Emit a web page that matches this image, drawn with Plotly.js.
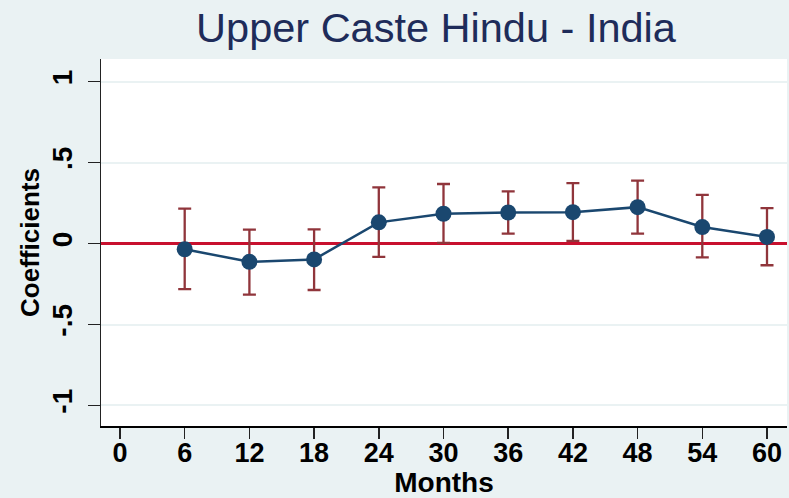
<!DOCTYPE html>
<html>
<head>
<meta charset="utf-8">
<script src="https://cdn.plot.ly/plotly-3.0.1.min.js"></script>
<style>html,body{margin:0;padding:0;background:#EAF2F3;}#chart{width:789px;height:498px;}</style>
</head>
<body>
<div id="chart"></div>
<script>
const months = [6, 12, 18, 24, 30, 36, 42, 48, 54, 60];
const coefficients = [-0.035, -0.113, -0.098, 0.131, 0.184, 0.192, 0.194, 0.225, 0.102, 0.041];
const ciUpper = [0.216, 0.086, 0.088, 0.347, 0.368, 0.322, 0.373, 0.389, 0.301, 0.219];
const ciLower = [-0.282, -0.315, -0.287, -0.082, 0.004, 0.061, 0.016, 0.061, -0.086, -0.134];
const xTickVals = [0, 6, 12, 18, 24, 30, 36, 42, 48, 54, 60];
const xTickText = ["0", "6", "12", "18", "24", "30", "36", "42", "48", "54", "60"];
const yTickVals = [-1, -0.5, 0, 0.5, 1];
const yTickText = ["-1", "-.5", "0", ".5", "1"];

const errPlus = ciUpper.map((u, i) => u - coefficients[i]);
const errMinus = coefficients.map((c, i) => c - ciLower[i]);

const font = "Liberation Sans, Arial, sans-serif";

const trace = {
  x: months,
  y: coefficients,
  type: 'scatter',
  mode: 'lines+markers',
  line: {color: '#1A476F', width: 2.5},
  marker: {color: '#1A476F', size: 16},
  error_y: {type: 'data', symmetric: false, array: errPlus, arrayminus: errMinus,
            color: '#90353B', thickness: 2.3, width: 6.5},
  showlegend: false,
  hoverinfo: 'none'
};

const layout = {
  width: 789, height: 498,
  margin: {l: 101, r: 2, t: 59, b: 72, pad: 0},
  paper_bgcolor: '#EAF2F3',
  plot_bgcolor: '#FFFFFF',
  title: {text: 'Upper Caste Hindu - India', font: {family: font, size: 41.5, color: '#1E2C5A'},
          x: 0.5526, xanchor: 'center', xref: 'container', y: 0.9458, yanchor: 'middle', yref: 'container'},
  xaxis: {
    range: [-1.762, 61.855], tickmode: 'array', tickvals: xTickVals, ticktext: xTickText,
    showgrid: false, zeroline: false, showline: true, linecolor: '#000000', linewidth: 1.5,
    ticks: 'outside', ticklen: 11, tickwidth: 1.5, tickcolor: '#222222',
    tickfont: {family: font, size: 27, color: '#000000', weight: 'bold'},
    ticklabelstandoff: -9,
    title: {text: 'Months', font: {family: font, size: 28, color: '#000000', weight: 'bold'}, standoff: 4},
    automargin: false
  },
  yaxis: {
    range: [-1.127, 1.14], tickmode: 'array', tickvals: yTickVals, ticktext: yTickText,
    tickangle: -90,
    showgrid: true, gridcolor: '#EAF2F3', gridwidth: 2,
    zeroline: true, zerolinecolor: '#C8102E', zerolinewidth: 2.3,
    showline: true, linecolor: '#222222', linewidth: 1.5,
    ticks: 'outside', ticklen: 12, tickwidth: 1.5, tickcolor: '#222222',
    tickfont: {family: font, size: 28, color: '#000000', weight: 'bold'},
    ticklabelstandoff: 4,
    title: {text: 'Coefficients', font: {family: font, size: 26, color: '#000000', weight: 'bold'}, standoff: 0},
    automargin: false
  }
};

Plotly.newPlot('chart', [trace], layout, {displayModeBar: false, staticPlot: true});
</script>
</body>
</html>
